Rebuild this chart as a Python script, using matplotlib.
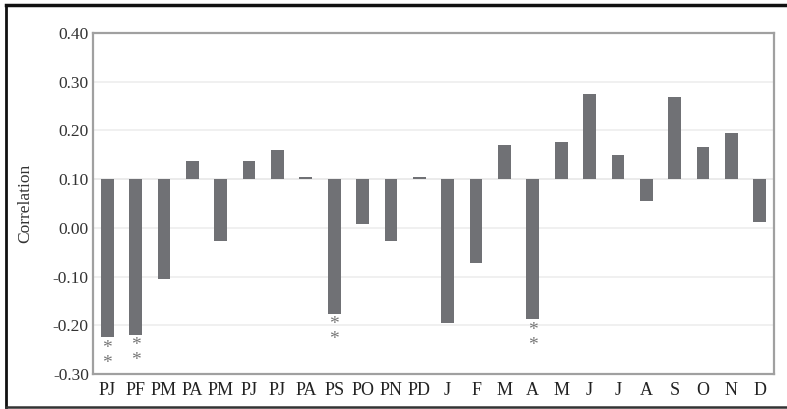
import numpy as np
import matplotlib
matplotlib.use("Agg")
import matplotlib.pyplot as plt
from matplotlib.lines import Line2D

# correlation per month (previous year P*, current year)
labels = ['PJ', 'PF', 'PM', 'PA', 'PM', 'PJ', 'PJ', 'PA', 'PS', 'PO', 'PN', 'PD',
          'J', 'F', 'M', 'A', 'M', 'J', 'J', 'A', 'S', 'O', 'N', 'D']
corr = [-0.224, -0.219, -0.104, 0.137, -0.027, 0.137, 0.159, 0.105, -0.176, 0.007, -0.028, 0.105,
        -0.196, -0.073, 0.170, -0.188, 0.177, 0.274, 0.150, 0.055, 0.268, 0.167, 0.195, 0.012]
signif = [1, 1, 0, 0, 0, 0, 0, 0, 1, 0, 0, 0,
          0, 0, 0, 1, 0, 0, 0, 0, 0, 0, 0, 0]
base = 0.10
yticks = [-0.30, -0.20, -0.10, 0.00, 0.10, 0.20, 0.30, 0.40]

plt.rcParams['font.family'] = ['Liberation Serif', 'DejaVu Serif']

fig = plt.figure(figsize=(7.87, 4.09), dpi=100)
ax = fig.add_axes([93/787, 1-374/409, (774-93)/787, (374-33)/409])

x = np.arange(len(labels))
vals = np.array(corr)
ax.bar(x, vals - base, bottom=base, width=0.45, color='#707175', zorder=3)

# significance stars under the bars
for i, v in enumerate(vals):
    if signif[i]:
        ax.annotate('*\n*', (i, v), xytext=(0, -2), textcoords='offset points',
                    ha='center', va='top', fontsize=14, color='#777777',
                    linespacing=0.85, zorder=4)

ax.set_xlim(-0.5, len(labels) - 0.5)
ax.set_ylim(-0.30, 0.40)
ax.set_yticks(yticks)
ax.set_yticklabels(['%.2f' % t for t in yticks], fontsize=12.5, color='#333333')
ax.set_xticks(x)
ax.set_xticklabels(labels, fontsize=13, color='#222222')
ax.tick_params(length=0, pad=6)
ax.tick_params(axis='y', pad=3)
ax.grid(axis='y', color='#eeeeee', linewidth=1.2, zorder=0)
ax.axhline(base, color='#dddddd', linewidth=1.2, zorder=1)
for s in ax.spines.values():
    s.set_color('#a0a0a0')
    s.set_linewidth(1.6)
ax.set_ylabel('Correlation', fontsize=12.5, color='#333333', labelpad=14)

# black frame around the figure
W, H = 787.0, 409.0
fig.add_artist(Line2D([6/W, 1], [1-5/H, 1-5/H], color='#111111', linewidth=2.5, transform=fig.transFigure))
fig.add_artist(Line2D([6/W, 6/W], [1-5/H, 1-407/H], color='#111111', linewidth=2.0, transform=fig.transFigure))
fig.add_artist(Line2D([6/W, 1], [1-407/H, 1-407/H], color='#333333', linewidth=1.8, transform=fig.transFigure))

fig.savefig('out.png', dpi=100)
